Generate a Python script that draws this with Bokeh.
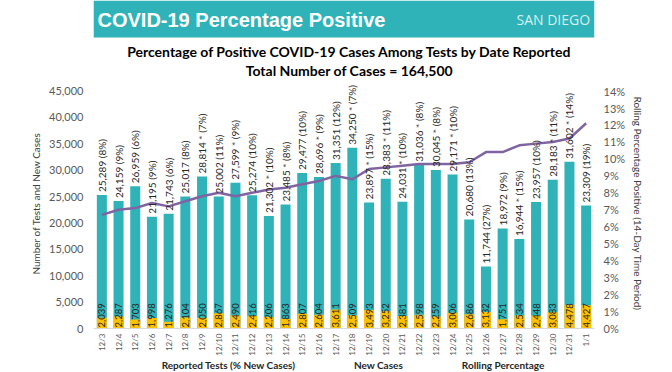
import math
from bokeh.plotting import figure
from bokeh.layouts import column
from bokeh.models import (FactorRange, Range1d, LinearAxis, NumeralTickFormatter, PrintfTickFormatter,
                          FixedTicker, Legend, LegendItem, ColumnDataSource, Label, BoxAnnotation)
from bokeh.core.properties import value
from bokeh.embed import file_html
from bokeh.resources import INLINE

# ---------------- data ----------------
dates = ["12/3", "12/4", "12/5", "12/6", "12/7", "12/8", "12/9", "12/10", "12/11", "12/12",
         "12/13", "12/14", "12/15", "12/16", "12/17", "12/18", "12/19", "12/20", "12/21", "12/22",
         "12/23", "12/24", "12/25", "12/26", "12/27", "12/28", "12/29", "12/30", "12/31", "1/1"]
tests = [25289, 24159, 26959, 21195, 21743, 25017, 28814, 25002, 27599, 25274,
         21302, 23485, 29477, 28696, 31351, 34250, 23897, 28383, 24031, 31036,
         30045, 29171, 20680, 11744, 18972, 16944, 23957, 28183, 31602, 23309]
new_cases = [2039, 2287, 1703, 1998, 1276, 2104, 2050, 2867, 2490, 2416,
             2206, 1863, 2807, 2604, 3611, 2509, 3493, 3252, 2381, 2598,
             2259, 3006, 2686, 3132, 1751, 2534, 2448, 3083, 4478, 4427]
pct_new = [8, 9, 6, 9, 6, 8, 7, 11, 9, 10,
           10, 8, 10, 9, 12, 7, 15, 11, 10, 8,
           8, 10, 13, 27, 9, 15, 10, 11, 14, 19]
starred = [0, 0, 0, 0, 0, 0, 1, 0, 1, 0,
           1, 1, 0, 1, 0, 1, 1, 1, 1, 1,
           1, 1, 0, 0, 0, 1, 0, 1, 1, 0]
rolling = [6.7, 7.0, 7.1, 7.4, 7.2, 7.5, 7.8, 8.0, 7.8, 8.0,
           8.2, 8.3, 8.5, 8.7, 9.0, 8.8, 9.4, 9.5, 9.6, 9.7,
           9.7, 9.7, 9.8, 10.4, 10.4, 10.8, 10.9, 11.0, 11.2, 12.1]
left_ticks = [0, 5000, 10000, 15000, 20000, 25000, 30000, 35000, 40000, 45000]
right_ticks = list(range(0, 15))

header_text = "COVID-19 Percentage Positive"
brand_text = "SAN DIEGO"
title1 = "Percentage of Positive COVID-19 Cases Among Tests by Date Reported"
title2 = "Total Number of Cases = 164,500"
left_label = "Number of Tests and New Cases"
right_label = "Rolling Percentage Positive (14-Day Time Period)"
legend_labels = ["Reported Tests (% New Cases)", "New Cases", "Rolling Percentage"]

# ---------------- styles / layout ----------------
TEAL = "#2FB3B9"
GOLD = "#FFC000"
PURPLE = "#8064A2"
FONT = "Lato"
TXT = "#262626"
TICK = "#595959"

W = 672
HDR_H, MAIN_H, LEG_H = 78, 280, 14
FL, FR, FB = 93, 78, 27
AXIS_PX = 240.3          # pixels spanned by 0..45,000 (and 0..14 %)
frame_h = MAIN_H - FB
y_max = left_ticks[-1] * frame_h / AXIS_PX
r_max = right_ticks[-1] * frame_h / AXIS_PX

# ---------------- header strip ----------------
hdr = figure(width=W, height=HDR_H, x_range=Range1d(0, 1), y_range=Range1d(0, 1),
             output_backend="svg", toolbar_location=None,
             min_border_left=FL, min_border_right=FR, min_border_top=0, min_border_bottom=0)
hdr.axis.visible = False
hdr.grid.visible = False
hdr.outline_line_color = None
hdr.add_layout(BoxAnnotation(top=HDR_H, bottom=HDR_H - 37, top_units="screen", bottom_units="screen",
                             fill_color=TEAL, fill_alpha=1.0, line_color=None))
hdr.add_layout(Label(x=4, y=HDR_H - 19, x_units="screen", y_units="screen", text=header_text,
                     text_color="white", text_font="Liberation Sans", text_font_style="bold",
                     text_font_size="20px", text_baseline="alphabetic", text_align="left"))
hdr.add_layout(Label(x=423, y=HDR_H - 19, x_units="screen", y_units="screen", text=brand_text,
                     text_color="#D5EEEE", text_font="Open Sans",
                     text_font_size="14px", text_baseline="alphabetic", text_align="left"))
for txt, sy in ((title1, 51), (title2, 70)):
    hdr.add_layout(Label(x=349 - FL, y=HDR_H - sy, x_units="screen", y_units="screen", text=txt,
                         text_color="black", text_font=FONT, text_font_style="bold",
                         text_font_size="14px", text_baseline="middle", text_align="center"))

# ---------------- main chart ----------------
test_labels = [f"{t:,}{' *' if s else ''} ({p}%)" for t, s, p in zip(tests, starred, pct_new)]
new_labels = [f"{n:,}" for n in new_cases]
src = ColumnDataSource(dict(date=dates, tests=tests, new=new_cases, rolling=rolling,
                            tlab=test_labels, nlab=new_labels, zero=[0] * len(dates)))

p = figure(width=W, height=MAIN_H, x_range=FactorRange(factors=dates), y_range=Range1d(0, y_max),
           output_backend="svg", toolbar_location=None,
           min_border_left=FL, min_border_right=FR, min_border_top=0, min_border_bottom=FB)
p.xgrid.visible = False
p.ygrid.visible = False
p.outline_line_color = None

p.vbar(x="date", top="tests", width=0.6, source=src, fill_color=TEAL, line_color=None)
p.vbar(x="date", top="new", width=0.6, source=src, fill_color=GOLD, line_color=None)

p.extra_y_ranges = {"pct": Range1d(0, r_max)}
p.line(x="date", y="rolling", source=src, y_range_name="pct", line_color=PURPLE, line_width=2.5)

p.text(x="date", y="tests", text="tlab", source=src, angle=math.pi / 2, text_align="left",
       text_baseline="middle", y_offset=-3, text_font=value(FONT), text_font_size="10px",
       text_color=TXT)
p.text(x="date", y="zero", text="nlab", source=src, angle=math.pi / 2, text_align="left",
       text_baseline="middle", y_offset=-1, text_font=value(FONT), text_font_size="9.5px",
       text_color=TXT)

ya = p.yaxis[0]
ya.ticker = FixedTicker(ticks=left_ticks)
ya.formatter = NumeralTickFormatter(format="0,0")
ya.axis_line_color = None
ya.major_tick_line_color = None
ya.minor_tick_line_color = None
ya.major_tick_out = 0
ya.major_label_standoff = 10
ya.major_label_text_font = FONT
ya.major_label_text_font_size = "11px"
ya.major_label_text_color = TICK
ya.axis_label = left_label
ya.axis_label_text_font = FONT
ya.axis_label_text_font_style = "normal"
ya.axis_label_text_font_size = "10px"
ya.axis_label_text_color = "#404040"
ya.axis_label_standoff = 4

ra = LinearAxis(y_range_name="pct", ticker=FixedTicker(ticks=right_ticks),
                formatter=PrintfTickFormatter(format="%d%%"))
ra.axis_line_color = None
ra.major_tick_line_color = None
ra.minor_tick_line_color = None
ra.major_tick_out = 0
ra.major_label_standoff = 9
ra.major_label_text_font = FONT
ra.major_label_text_font_size = "11px"
ra.major_label_text_color = TICK
ra.axis_label = right_label
ra.axis_label_text_font = FONT
ra.axis_label_text_font_style = "normal"
ra.axis_label_text_font_size = "10px"
ra.axis_label_text_color = "#404040"
ra.axis_label_standoff = 4
p.add_layout(ra, "right")

xa = p.xaxis[0]
xa.axis_line_color = "#D9D9D9"
xa.major_tick_line_color = None
xa.minor_tick_line_color = None
xa.major_tick_out = 0
xa.major_tick_in = 0
xa.major_label_orientation = math.pi / 2
xa.major_label_standoff = 5
xa.major_label_text_font = FONT
xa.major_label_text_font_size = "8px"
xa.major_label_text_color = TICK

# ---------------- legend strip below the chart ----------------
lf = figure(width=W, height=LEG_H, x_range=Range1d(0, 1), y_range=Range1d(0, 1),
            output_backend="svg", toolbar_location=None,
            min_border_left=FL, min_border_right=FR, min_border_top=0, min_border_bottom=0)
lf.axis.visible = False
lf.grid.visible = False
lf.outline_line_color = None
lr_tests = lf.quad(left=[], right=[], bottom=[], top=[], fill_color=TEAL, line_color=None)
lr_new = lf.quad(left=[], right=[], bottom=[], top=[], fill_color=GOLD, line_color=None)
lr_roll = lf.line(x=[], y=[], line_color=PURPLE, line_width=2.5)
legend = Legend(items=[LegendItem(label=legend_labels[0], renderers=[lr_tests]),
                       LegendItem(label=legend_labels[1], renderers=[lr_new]),
                       LegendItem(label=legend_labels[2], renderers=[lr_roll])],
                orientation="horizontal", location="center",
                spacing=40, glyph_width=17, glyph_height=5, label_standoff=2,
                label_height=11, padding=0, margin=0, border_line_color=None,
                background_fill_alpha=0, label_text_font=FONT, label_text_font_style="bold",
                label_text_font_size="10px", label_text_color=TXT)
lf.add_layout(legend, "center")

layout = column(hdr, p, lf, spacing=0)
open("out.html", "w").write(file_html(layout, INLINE))
